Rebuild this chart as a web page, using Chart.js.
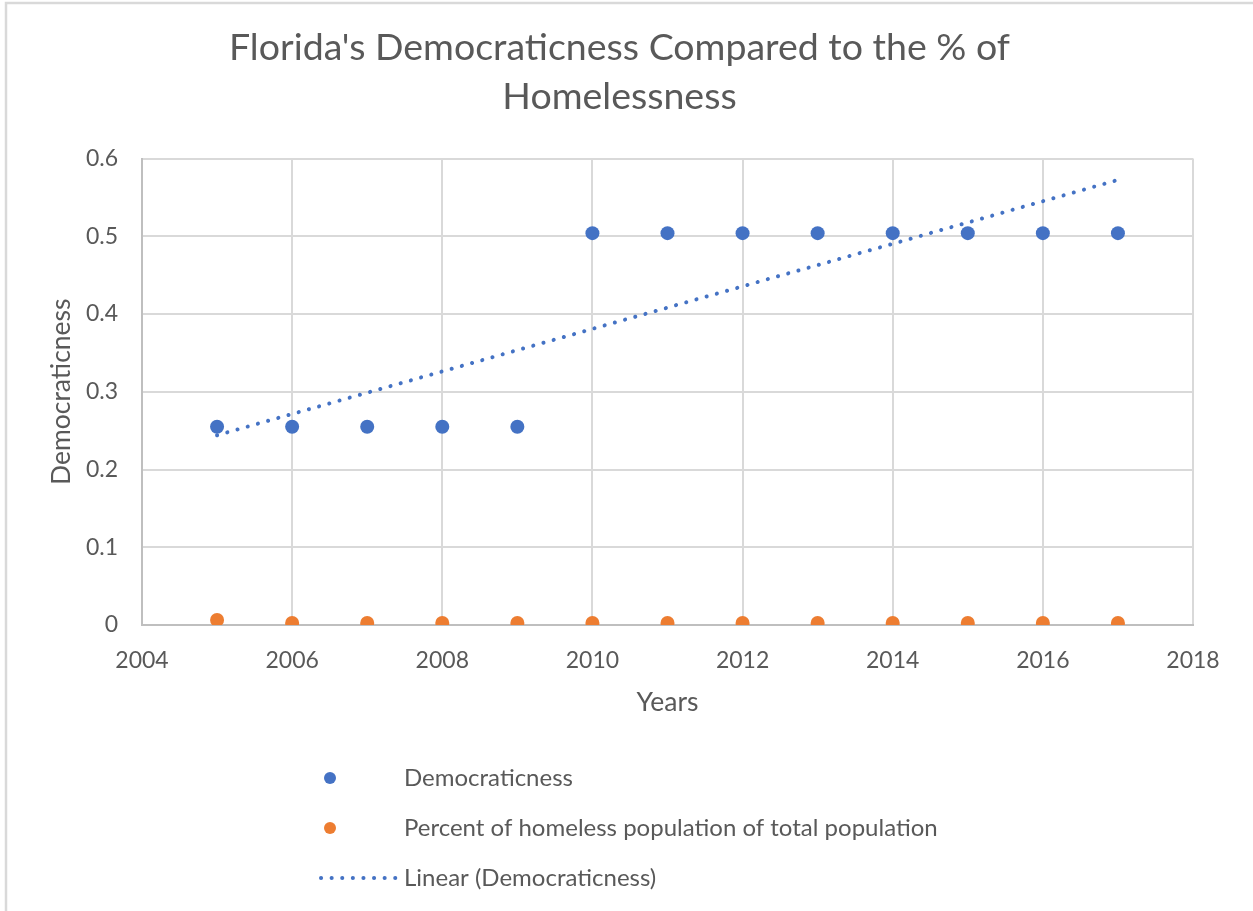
<!DOCTYPE html>
<html>
<head>
<meta charset="utf-8">
<title>Florida's Democraticness Compared to the % of Homelessness</title>
<script src="https://cdn.jsdelivr.net/npm/chart.js@4/dist/chart.umd.min.js"></script>
<style>
  html, body { margin: 0; padding: 0; background: #fff; }
  #wrap { position: relative; width: 1253px; height: 911px; }
</style>
</head>
<body>
<div id="wrap"><canvas id="myChart" width="1253" height="911"></canvas></div>
<script>
// Data
let years = [2005, 2006, 2007, 2008, 2009, 2010, 2011, 2012, 2013, 2014, 2015, 2016, 2017];
let democraticness = [0.255, 0.255, 0.255, 0.255, 0.255, 0.504, 0.504, 0.504, 0.504, 0.504, 0.504, 0.504, 0.504];
let homelessPercent = [0.0065, 0.0025, 0.0025, 0.0025, 0.0025, 0.0025, 0.0025, 0.0025, 0.0025, 0.0025, 0.0025, 0.0025, 0.0025];
let yTicks = [0, 0.1, 0.2, 0.3, 0.4, 0.5, 0.6];

let blue = '#4472C4';
let orange = '#ED7D31';
let textColor = '#595959';
let fontFamily = 'Lato, "Open Sans", sans-serif';

// least squares trendline over the democraticness points
function linearFit(xs, ys) {
    let n = xs.length;
    let mx = xs.reduce((a, b) => a + b, 0) / n;
    let my = ys.reduce((a, b) => a + b, 0) / n;
    let sxy = 0, sxx = 0;
    for (let i = 0; i < n; i++) {
        sxy += (xs[i] - mx) * (ys[i] - my);
        sxx += (xs[i] - mx) * (xs[i] - mx);
    }
    let slope = sxy / sxx;
    return x => my + slope * (x - mx);
}

let fit = linearFit(years, democraticness);
let first = years[0], last = years[years.length - 1];
let trend = [{ x: first, y: fit(first) }, { x: last, y: fit(last) }];

// stacked legend + outer frame, drawn by hand
let extrasPlugin = {
    id: 'extras',
    beforeDraw(chart) {
        let ctx = chart.ctx;
        ctx.save();
        ctx.fillStyle = '#fff';
        ctx.fillRect(0, 0, chart.width, chart.height);
        ctx.strokeStyle = '#d9d9d9';
        ctx.lineWidth = 2.5;
        ctx.strokeRect(6, 3, chart.width, chart.height + 10);
        ctx.restore();
    },
    afterDraw(chart) {
        let ctx = chart.ctx;
        let ds = chart.data.datasets;
        let rows = [778, 828, 878];
        ctx.save();
        ctx.font = '24px ' + fontFamily;
        ctx.textBaseline = 'middle';
        ctx.textAlign = 'left';
        ds.forEach((d, i) => {
            let y = rows[i];
            if (d.showLine) {
                ctx.strokeStyle = d.borderColor;
                ctx.lineWidth = 4;
                ctx.lineCap = 'round';
                ctx.setLineDash([0.1, 10.5]);
                ctx.beginPath();
                ctx.moveTo(321, y);
                ctx.lineTo(398, y);
                ctx.stroke();
                ctx.setLineDash([]);
            } else {
                ctx.fillStyle = d.backgroundColor;
                ctx.beginPath();
                ctx.arc(330, y, 6, 0, Math.PI * 2);
                ctx.fill();
            }
            ctx.fillStyle = textColor;
            ctx.fillText(d.label, 404, y);
        });
        ctx.restore();
    }
};

let ctx = document.getElementById('myChart').getContext('2d');
let myChart = new Chart(ctx, {
    type: 'scatter',
    data: {
        datasets: [{
            label: 'Democraticness',
            data: years.map((x, i) => ({ x: x, y: democraticness[i] })),
            backgroundColor: blue,
            borderColor: blue,
            pointRadius: 7,
            pointBorderWidth: 0
        }, {
            label: 'Percent of homeless population of total population',
            data: years.map((x, i) => ({ x: x, y: homelessPercent[i] })),
            backgroundColor: orange,
            borderColor: orange,
            pointRadius: 7,
            pointBorderWidth: 0
        }, {
            label: 'Linear (Democraticness)',
            data: trend,
            showLine: true,
            borderColor: blue,
            backgroundColor: blue,
            borderWidth: 4,
            borderDash: [0.1, 10.5],
            borderCapStyle: 'round',
            pointRadius: 0
        }]
    },
    options: {
        responsive: false,
        animation: false,
        layout: {
            padding: { left: 46, right: 60, top: 24, bottom: 193 }
        },
        plugins: {
            legend: { display: false },
            tooltip: { enabled: false },
            title: {
                display: true,
                text: ["Florida's Democraticness Compared to the % of", 'Homelessness'],
                color: textColor,
                font: { family: fontFamily, size: 37.5, weight: 'normal', lineHeight: 1.3 },
                padding: { top: 0, bottom: 37 }
            }
        },
        scales: {
            x: {
                type: 'linear',
                min: 2004,
                max: 2018,
                afterFit: axis => { axis.height = 93; },
                ticks: {
                    stepSize: 2,
                    color: textColor,
                    font: { family: fontFamily, size: 23 },
                    padding: 22,
                    callback: v => String(v)
                },
                grid: { color: '#d9d9d9', lineWidth: 2, drawTicks: false },
                border: { color: '#bfbfbf', width: 2 },
                title: {
                    display: true,
                    text: 'Years',
                    color: textColor,
                    font: { family: fontFamily, size: 26.5 },
                    padding: { top: 13, bottom: 0 }
                }
            },
            y: {
                min: 0,
                max: 0.6,
                afterBuildTicks: axis => { axis.ticks = yTicks.map(v => ({ value: v })); },
                afterFit: axis => { axis.width = 96; },
                ticks: {
                    color: textColor,
                    font: { family: fontFamily, size: 23 },
                    padding: 24,
                    callback: v => String(v)
                },
                grid: { color: '#d9d9d9', lineWidth: 2, drawTicks: false },
                border: { color: '#bfbfbf', width: 2 },
                title: {
                    display: true,
                    text: 'Democraticness',
                    color: textColor,
                    font: { family: fontFamily, size: 26.5 },
                    padding: { top: 0, bottom: 7 }
                }
            }
        }
    },
    plugins: [extrasPlugin]
});
</script>
</body>
</html>
